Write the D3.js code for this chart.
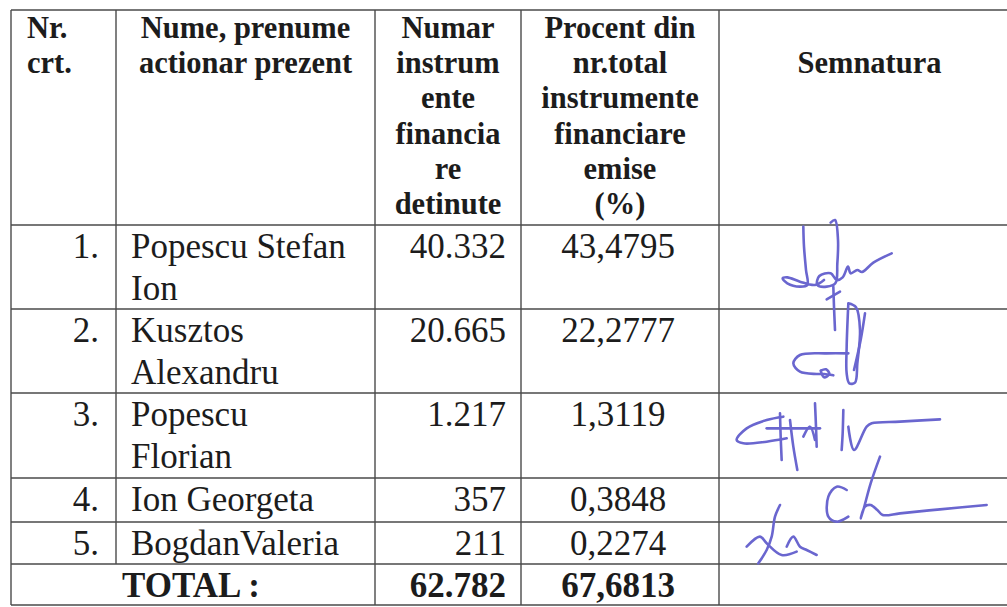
<!DOCTYPE html>
<html lang="ro">
<head>
<meta charset="utf-8">
<title>Lista actionari prezenti</title>
<script src="https://d3js.org/d3.v7.min.js"></script>
<style>
  body { margin: 0; background: #fff; }
  svg text { font-family: "Liberation Serif", "Times New Roman", "DejaVu Serif", serif; fill: #1c1c1c; }
</style>
</head>
<body>
<script>
var nrCrt = ["1.", "2.", "3.", "4.", "5."];
var names = [["Popescu Stefan", "Ion"], ["Kusztos", "Alexandru"], ["Popescu", "Florian"], ["Ion Georgeta"], ["BogdanValeria"]];
var shares = [40332, 20665, 1217, 357, 211];
var percents = [43.4795, 22.2777, 1.3119, 0.3848, 0.2274];
var totalLabel = "TOTAL :";
var totalShares = 62782;
var totalPercent = 67.6813;

var headers = [
  ["Nr.", "crt."],
  ["Nume, prenume", "actionar prezent"],
  ["Numar", "instrum", "ente", "financia", "re", "detinute"],
  ["Procent din", "nr.total", "instrumente", "financiare", "emise", "(%)"],
  ["", "Semnatura"]
];

// signature strokes, in ink units of the signature column (900 x 1140)
var signatures = [
  [[310,20],[312,80],[318,150],[322,195],[300,200],[262,190],[248,175],[262,172],[300,185],[345,195],[372,180]],
  [[392,8],[405,0],[414,60],[412,130],[406,190],[380,200],[352,195],[358,168],[392,160],[410,180],[428,172],[444,140],[452,160],[472,150],[486,156],[520,128],[575,100]],
  [[380,238],[420,215]],
  [[400,200],[402,260],[405,330]],
  [[445,250],[468,262],[480,330],[472,430],[465,488],[448,490],[440,460],[440,380],[445,250]],
  [[495,280],[482,360],[462,450]],
  [[445,400],[380,400],[300,405],[280,430],[300,455],[350,462],[372,462],[400,466]],
  [[362,452],[378,448],[388,462],[372,472],[362,452]],
  // third row (Florian)
  [[250,590],[200,600],[140,625],[110,660],[130,670],[200,665],[260,655]],
  [[200,625],[360,625]],
  [[240,580],[242,650],[245,720]],
  [[270,600],[280,680],[292,750]],
  [[345,550],[348,620],[350,680]],
  [[310,650],[330,620],[345,660]],
  [[430,570],[428,640],[425,690]],
  [[445,620],[462,690],[500,620],[515,610],[600,605],[720,598]],
  // fourth row (Georgeta)
  [[440,810],[410,800],[385,830],[385,890],[410,905],[445,890]],
  [[540,710],[512,790],[490,870],[482,895],[495,860],[512,855],[532,870],[548,885],[600,880],[720,868],[860,855]],
  // fifth row (Valeria)
  [[240,855],[225,890],[215,950],[200,990],[175,1030]],
  [[140,980],[180,950],[200,970],[245,1005],[290,995]],
  [[260,980],[280,950],[300,980],[320,990],[350,1005]]
];

// --- layout ---
var w = 1007, h = 607;
var colX = [11, 116, 375, 521, 719, 1012];
var rowY = [10, 225, 309, 393, 478, 522, 564, 605];

var ro = d3.formatLocale({decimal: ",", thousands: ".", grouping: [3], currency: ["", " lei"]});
var fmtShares = ro.format(",d");
var fmtPct = ro.format(".4f");

var svg = d3.select("body").append("svg")
  .attr("width", w)
  .attr("height", h);

var lineColor = "#4a4a4a";
var grid = svg.append("g").attr("stroke", lineColor).attr("stroke-width", 1.4);

// horizontal rules
grid.selectAll("line.h").data(rowY).enter().append("line")
  .attr("class", "h")
  .attr("x1", colX[0]).attr("x2", colX[5])
  .attr("y1", function(d) { return d; }).attr("y2", function(d) { return d; });

// vertical rules (column 1 stops above the TOTAL row)
grid.selectAll("line.v").data(colX).enter().append("line")
  .attr("class", "v")
  .attr("x1", function(d) { return d; }).attr("x2", function(d) { return d; })
  .attr("y1", rowY[0])
  .attr("y2", function(d, i) { return i == 1 ? rowY[6] : rowY[7]; });

// header
var hdr = svg.append("g").attr("font-weight", "bold").attr("font-size", 30.5);
headers.forEach(function(lines, c) {
  var x = c == 0 ? colX[0] + 16 : (colX[c] + colX[c + 1]) / 2 + (c == 4 ? 4 : 0);
  hdr.append("text")
    .attr("text-anchor", c == 0 ? "start" : "middle")
    .selectAll("tspan").data(lines).enter().append("tspan")
    .attr("x", x)
    .attr("y", function(d, i) { return rowY[0] + 28 + i * 35.2; })
    .text(function(d) { return d; });
});

// body rows
var rows = svg.append("g").attr("font-size", 35);
nrCrt.forEach(function(n, i) {
  var base = rowY[i + 1] + 33;
  rows.append("text").attr("x", colX[1] - 17).attr("y", base)
    .attr("text-anchor", "end").text(n);
  rows.append("text").selectAll("tspan").data(names[i]).enter().append("tspan")
    .attr("x", colX[1] + 15)
    .attr("y", function(d, j) { return base + j * 42; })
    .text(function(d) { return d; });
  rows.append("text").attr("x", colX[3] - 15).attr("y", base)
    .attr("text-anchor", "end").text(fmtShares(shares[i]));
  rows.append("text").attr("x", (colX[3] + colX[4]) / 2 - 2).attr("y", base)
    .attr("text-anchor", "middle").text(fmtPct(percents[i]));
});

// total row
var tot = svg.append("g").attr("font-size", 35).attr("font-weight", "bold");
var totBase = rowY[6] + 33;
tot.append("text").attr("x", (colX[0] + colX[2]) / 2 - 2).attr("y", totBase)
  .attr("text-anchor", "middle").text(totalLabel);
tot.append("text").attr("x", colX[3] - 15).attr("y", totBase)
  .attr("text-anchor", "end").text(fmtShares(totalShares));
tot.append("text").attr("x", (colX[3] + colX[4]) / 2 - 2).attr("y", totBase)
  .attr("text-anchor", "middle").text(fmtPct(totalPercent));

// signatures
var sx = d3.scaleLinear().domain([0, 900]).range([colX[4] - 19, colX[4] + 281]);
var sy = d3.scaleLinear().domain([0, 1140]).range([rowY[1] - 5, rowY[1] + 375]);
var ink = d3.line()
  .x(function(d) { return sx(d[0]); })
  .y(function(d) { return sy(d[1]); })
  .curve(d3.curveCatmullRom.alpha(0.5));

svg.append("g").selectAll("path").data(signatures).enter().append("path")
  .attr("d", ink)
  .attr("fill", "none")
  .attr("stroke", "#6a66cf")
  .attr("stroke-width", 2.6)
  .attr("stroke-linecap", "round")
  .attr("stroke-linejoin", "round");
</script>
</body>
</html>
